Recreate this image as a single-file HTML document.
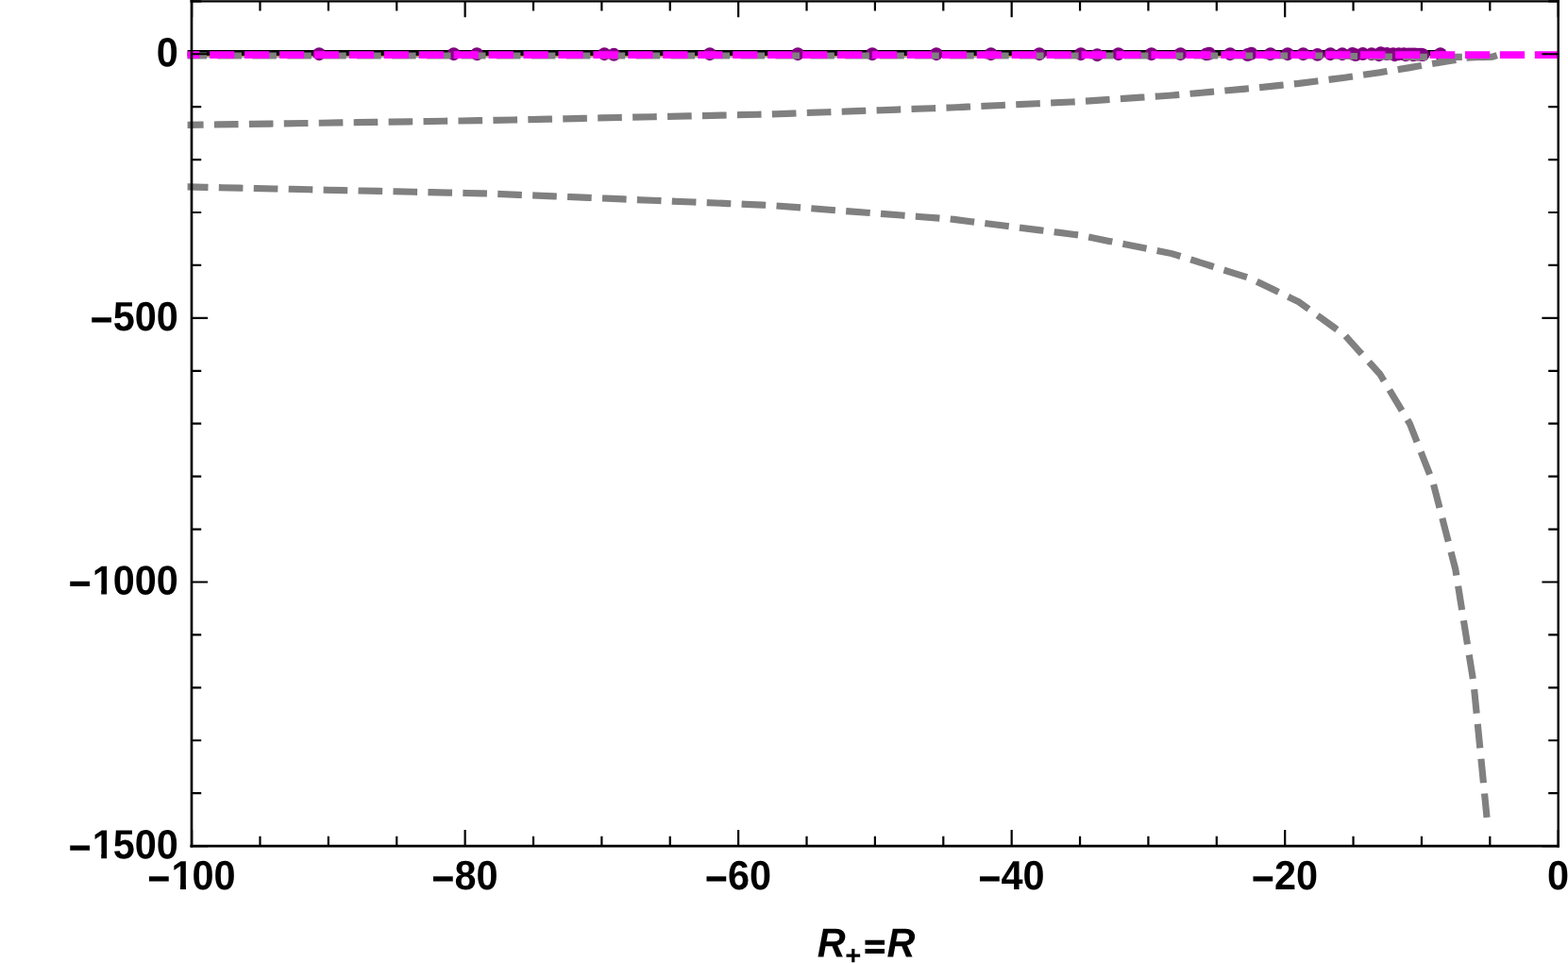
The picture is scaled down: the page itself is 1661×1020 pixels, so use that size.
<!DOCTYPE html>
<html lang="en"><head><meta charset="utf-8"><title>Plot</title>
<style>html,body{margin:0;padding:0;background:#fff;overflow:hidden}svg{display:block}text{font-family:"Liberation Sans",sans-serif;font-weight:bold;fill:#000;text-rendering:geometricPrecision}</style></head><body>
<svg width="1661" height="1020" viewBox="0 0 1661 1020">
<rect x="0" y="0" width="1661" height="1020" fill="#fff"/>
<defs><clipPath id="c"><rect x="198.6" y="-10" width="1453.5" height="920"/></clipPath></defs>
<g clip-path="url(#c)" fill="none">
<path d="M189 59.3H1521" stroke="#5e81b5" stroke-width="3"/>
<path d="M189 58.6H1521" stroke="#e19c24" stroke-width="2.6"/>
<path d="M189 55.95H1521" stroke="#000" stroke-width="6.1"/>
<g fill="#800080" stroke="none">
<circle cx="338.1" cy="57.2" r="6.95"/>
<circle cx="480.6" cy="57.2" r="6.95"/>
<circle cx="505.1" cy="57.2" r="6.95"/>
<circle cx="640.2" cy="57.2" r="6.95"/>
<circle cx="650.3" cy="57.8" r="6.95"/>
<circle cx="751.9" cy="57.2" r="6.95"/>
<circle cx="845.1" cy="57.2" r="6.95"/>
<circle cx="924.0" cy="57.2" r="6.95"/>
<circle cx="991.9" cy="57.2" r="6.95"/>
<circle cx="1049.7" cy="57.2" r="6.95"/>
<circle cx="1101.0" cy="57.2" r="6.95"/>
<circle cx="1144.9" cy="57.2" r="6.95"/>
<circle cx="1162.3" cy="58.2" r="6.95"/>
<circle cx="1184.7" cy="57.2" r="6.95"/>
<circle cx="1219.7" cy="57.2" r="6.95"/>
<circle cx="1250.5" cy="57.2" r="6.95"/>
<circle cx="1278.0" cy="57.4" r="6.95"/>
<circle cx="1281.0" cy="56.7" r="6.95"/>
<circle cx="1303.1" cy="57.2" r="6.95"/>
<circle cx="1321.6" cy="58.0" r="6.95"/>
<circle cx="1325.6" cy="56.7" r="6.95"/>
<circle cx="1345.8" cy="57.2" r="6.95"/>
<circle cx="1364.0" cy="57.2" r="6.95"/>
<circle cx="1380.5" cy="57.2" r="6.95"/>
<circle cx="1395.6" cy="57.9" r="6.95"/>
<circle cx="1409.3" cy="57.2" r="6.95"/>
<circle cx="1421.9" cy="57.2" r="6.95"/>
<circle cx="1432.6" cy="56.9" r="6.95"/>
<circle cx="1436.0" cy="58.1" r="6.95"/>
<circle cx="1443.6" cy="57.0" r="6.95"/>
<circle cx="1452.9" cy="57.2" r="6.95"/>
<circle cx="1460.8" cy="58.2" r="6.95"/>
<circle cx="1462.6" cy="56.1" r="6.95"/>
<circle cx="1469.1" cy="57.0" r="6.95"/>
<circle cx="1475.8" cy="57.2" r="6.95"/>
<circle cx="1477.4" cy="58.2" r="6.95"/>
<circle cx="1481.8" cy="57.2" r="6.95"/>
<circle cx="1487.2" cy="57.2" r="6.95"/>
<circle cx="1489.0" cy="58.2" r="6.95"/>
<circle cx="1492.0" cy="57.4" r="6.95"/>
<circle cx="1495.4" cy="57.4" r="6.95"/>
<circle cx="1497.0" cy="58.2" r="6.95"/>
<circle cx="1498.6" cy="57.5" r="6.95"/>
<circle cx="1501.4" cy="57.6" r="6.95"/>
<circle cx="1503.6" cy="57.6" r="6.95"/>
<circle cx="1505.6" cy="57.7" r="6.95"/>
<circle cx="1507.2" cy="58.1" r="6.95"/>
<circle cx="1525.8" cy="57.2" r="6.95"/>
</g>
<path d="M180.0 132.7 L198.6 132.4 L520.0 127.5 L815.0 121.0 L1007.0 114.0 L1142.0 107.7 L1241.3 101.0 L1324.0 93.7 L1375.9 88.4 L1424.5 82.2 L1461.9 76.7 L1493.4 71.6 L1518.3 67.3 L1541.8 63.5 L1556.0 61.0 L1574.0 60.2" stroke="#808080" stroke-width="7.15" stroke-dasharray="18.47 18.47" stroke-dashoffset="23.38" stroke-linecap="square" stroke-linejoin="miter"/>
<path d="M1572 60.5 L1581.0 60.15 L1582.45 59.68" stroke="#808080" stroke-width="7.15" stroke-linecap="square" stroke-linejoin="miter"/>
<path d="M180.0 197.5 L198.6 197.9 L520.0 205.1 L815.0 217.4 L1007.0 232.0 L1142.0 248.9 L1241.3 268.6 L1324.0 294.6 L1375.9 319.8 L1424.5 355.0 L1461.9 396.4 L1493.4 448.8 L1518.3 512.0 L1541.8 603.0 L1561.0 723.5 L1574.7 862.3" stroke="#808080" stroke-width="7.15" stroke-dasharray="18.47 18.47" stroke-dashoffset="18.48" stroke-linecap="square" stroke-linejoin="miter"/>
<path d="M180 59.0 L1400 59.0 L1500 60.4 L1545.3 60.4" stroke="#808080" stroke-width="7.15" stroke-dasharray="18.47 18.47" stroke-dashoffset="19.98" stroke-linecap="square" stroke-linejoin="miter"/>
<path d="M180 58.1 H1660" stroke="#ff00ff" stroke-width="7.75" stroke-dasharray="18.47 18.47" stroke-dashoffset="27.93" stroke-linecap="square" stroke-linejoin="miter"/>
</g>
<g stroke="#000" fill="none">
<path d="M201.45 1.3H1651.9" stroke-width="2.35"/>
<path d="M1650.7 0V897.5" stroke-width="2.4"/>
<path d="M202.98 0V897.5" stroke-width="2.65"/>
<path d="M201.45 896.18H1651.9" stroke-width="2.65"/>
<path d="M203.10 895.9v-16.9 M203.10 1.3v16.9 M275.48 895.9v-10.1 M275.48 1.3v10.1 M347.86 895.9v-10.1 M347.86 1.3v10.1 M420.24 895.9v-10.1 M420.24 1.3v10.1 M492.62 895.9v-16.9 M492.62 1.3v16.9 M565.00 895.9v-10.1 M565.00 1.3v10.1 M637.38 895.9v-10.1 M637.38 1.3v10.1 M709.76 895.9v-10.1 M709.76 1.3v10.1 M782.14 895.9v-16.9 M782.14 1.3v16.9 M854.52 895.9v-10.1 M854.52 1.3v10.1 M926.90 895.9v-10.1 M926.90 1.3v10.1 M999.28 895.9v-10.1 M999.28 1.3v10.1 M1071.66 895.9v-16.9 M1071.66 1.3v16.9 M1144.04 895.9v-10.1 M1144.04 1.3v10.1 M1216.42 895.9v-10.1 M1216.42 1.3v10.1 M1288.80 895.9v-10.1 M1288.80 1.3v10.1 M1361.18 895.9v-16.9 M1361.18 1.3v16.9 M1433.56 895.9v-10.1 M1433.56 1.3v10.1 M1505.94 895.9v-10.1 M1505.94 1.3v10.1 M1578.32 895.9v-10.1 M1578.32 1.3v10.1 M1650.70 895.9v-16.9 M1650.70 1.3v16.9 M203.1 1.30h10.1 M1650.7 1.30h-10.5 M203.1 57.23h16.9 M1650.7 57.23h-17.3 M203.1 113.15h10.1 M1650.7 113.15h-10.5 M203.1 169.08h10.1 M1650.7 169.08h-10.5 M203.1 225.00h10.1 M1650.7 225.00h-10.5 M203.1 280.93h10.1 M1650.7 280.93h-10.5 M203.1 336.85h16.9 M1650.7 336.85h-17.3 M203.1 392.78h10.1 M1650.7 392.78h-10.5 M203.1 448.70h10.1 M1650.7 448.70h-10.5 M203.1 504.63h10.1 M1650.7 504.63h-10.5 M203.1 560.55h10.1 M1650.7 560.55h-10.5 M203.1 616.48h16.9 M1650.7 616.48h-17.3 M203.1 672.40h10.1 M1650.7 672.40h-10.5 M203.1 728.33h10.1 M1650.7 728.33h-10.5 M203.1 784.25h10.1 M1650.7 784.25h-10.5 M203.1 840.18h10.1 M1650.7 840.18h-10.5 M203.1 896.10h16.9 M1650.7 896.10h-17.3" stroke-width="2.2"/>
</g>
<g font-size="41.45">
<g><text transform="translate(188.80 70.33) matrix(1 0.0005 0 1.048 0 0)" text-anchor="end">0</text></g>
<g><text transform="translate(119.64 355.25) matrix(1 0.0005 0 1.19 0 0)" text-anchor="end">−</text><text transform="translate(188.80 349.95) matrix(1 0.0005 0 1.048 0 0)" text-anchor="end">500</text></g>
<g><text transform="translate(96.59 634.88) matrix(1 0.0005 0 1.19 0 0)" text-anchor="end">−</text><text transform="translate(96.59 629.58) matrix(1 0.0005 0 1.048 0 0)"><tspan x="1.16">1</tspan><tspan x="23.053">000</tspan></text><path fill="#fff" d="M99.65 623.88H107.21V630.38H99.65ZM113.15 623.88H120.15V630.38H113.15Z"/></g>
<g><text transform="translate(96.59 914.50) matrix(1 0.0005 0 1.19 0 0)" text-anchor="end">−</text><text transform="translate(96.59 909.20) matrix(1 0.0005 0 1.048 0 0)"><tspan x="1.16">1</tspan><tspan x="23.053">500</tspan></text><path fill="#fff" d="M99.65 903.50H107.21V910.00H99.65ZM113.15 903.50H120.15V910.00H113.15Z"/></g>
<g><text transform="translate(180.37 947.30) matrix(1 0.0005 0 1.19 0 0)" text-anchor="end">−</text><text transform="translate(180.37 942.00) matrix(1 0.0005 0 1.048 0 0)"><tspan x="1.16">1</tspan><tspan x="23.053">00</tspan></text><path fill="#fff" d="M183.43 936.30H190.99V942.80H183.43ZM196.93 936.30H203.93V942.80H196.93Z"/></g>
<g><text transform="translate(481.42 947.30) matrix(1 0.0005 0 1.19 0 0)" text-anchor="end">−</text><text transform="translate(527.53 942.00) matrix(1 0.0005 0 1.048 0 0)" text-anchor="end">80</text></g>
<g><text transform="translate(770.94 947.30) matrix(1 0.0005 0 1.19 0 0)" text-anchor="end">−</text><text transform="translate(817.05 942.00) matrix(1 0.0005 0 1.048 0 0)" text-anchor="end">60</text></g>
<g><text transform="translate(1060.46 947.30) matrix(1 0.0005 0 1.19 0 0)" text-anchor="end">−</text><text transform="translate(1106.57 942.00) matrix(1 0.0005 0 1.048 0 0)" text-anchor="end">40</text></g>
<g><text transform="translate(1349.98 947.30) matrix(1 0.0005 0 1.19 0 0)" text-anchor="end">−</text><text transform="translate(1396.09 942.00) matrix(1 0.0005 0 1.048 0 0)" text-anchor="end">20</text></g>
<g><text transform="translate(1661.98 942.00) matrix(1 0.0005 0 1.048 0 0)" text-anchor="end">0</text></g>
<text transform="translate(865.8 1013.55) matrix(1 0.0005 0 1.048 0 0)" font-style="italic">R</text><text transform="translate(895.3 1021.6) matrix(1 0.0005 0 0.96 0 0)" font-size="29.3">+</text><text transform="translate(915.62 1014.25) matrix(0.926 0.0005 0 0.835 0 0)" stroke="#000" stroke-width="1.455" stroke-linejoin="miter">=</text><text transform="translate(939.55 1013.55) matrix(1 0.0005 0 1.048 0 0)" font-style="italic">R</text>
</g>
</svg></body></html>
